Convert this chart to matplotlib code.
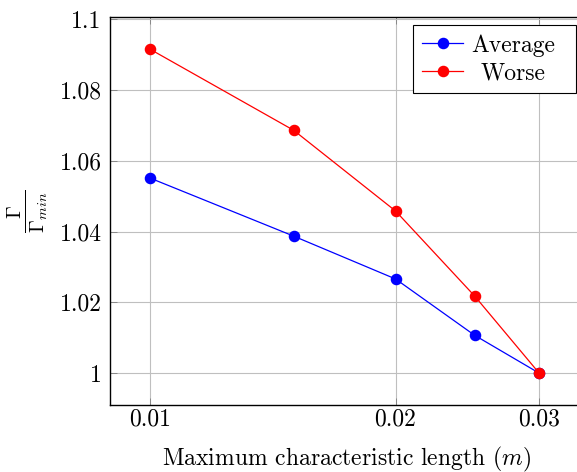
import matplotlib
matplotlib.use("Agg")
import matplotlib.pyplot as plt
from matplotlib.ticker import FixedLocator, FixedFormatter, NullLocator
from matplotlib.offsetbox import DrawingArea

plt.rcParams['font.family'] = 'serif'
plt.rcParams['font.serif'] = ['cmr10', 'DejaVu Serif']
plt.rcParams['mathtext.fontset'] = 'cm'
plt.rcParams['axes.formatter.use_mathtext'] = True

x_vals = [0.01, 0.015, 0.02, 0.025, 0.03]
average = [1.0551, 1.0387, 1.0266, 1.0107, 1.0]
worse = [1.0915, 1.0686, 1.0458, 1.0218, 1.0]
x_ticks = [0.01, 0.02, 0.03]
x_ticklabels = ['0.01', '0.02', '0.03']
y_ticks = [1.0, 1.02, 1.04, 1.06, 1.08, 1.1]
y_ticklabels = ['1', '1.02', '1.04', '1.06', '1.08', '1.1']

W, H = 577, 472
DPI = 100
fig = plt.figure(figsize=(W/DPI, H/DPI), dpi=DPI)
l, r, t, b = 110, 584, 17, 405
ax = fig.add_axes([l/W, 1 - b/H, (r - l)/W, (b - t)/H])

ax.plot(x_vals, average, color='blue', marker='o', markersize=7.3, lw=0.9, label='Average')
ax.plot(x_vals, worse, color='red', marker='o', markersize=7.3, lw=0.9, label='Worse')

ax.set_xscale('log')
ax.set_xlim(0.00893, 0.03405)
ax.set_ylim(0.991, 1.1006)
ax.xaxis.set_major_locator(FixedLocator(x_ticks))
ax.xaxis.set_major_formatter(FixedFormatter(x_ticklabels))
ax.xaxis.set_minor_locator(NullLocator())
ax.yaxis.set_major_locator(FixedLocator(y_ticks))
ax.yaxis.set_major_formatter(FixedFormatter(y_ticklabels))

ax.grid(True, color='#bfbfbf', lw=0.8)
ax.set_axisbelow(True)
ax.tick_params(direction='in', length=5, width=0.6, color='#7f7f7f', labelsize=17,
               top=True, right=True)
ax.tick_params(axis='x', pad=2.5)
ax.tick_params(axis='y', pad=6)
for s in ax.spines.values():
    s.set_linewidth(1.0)

ax.set_xlabel('Maximum characteristic length ($m$)', fontsize=17, labelpad=10)
ax.set_ylabel(r'$\frac{\Gamma}{\Gamma_{min}}$', fontsize=21, labelpad=7)

FS = 17
HTP = 0.34
leg = ax.legend(loc='upper right', fontsize=FS, frameon=True, fancybox=False,
                edgecolor='black', framealpha=1, borderaxespad=0.34,
                handlelength=1.74, handletextpad=HTP, borderpad=0.38, labelspacing=0.23)
leg.get_frame().set_linewidth(0.8)

# center legend labels within the text column and add right padding like pgfplots
renderer = fig.canvas.get_renderer()
texts = leg.get_texts()
widths = [tx.get_window_extent(renderer).width for tx in texts]
maxw = max(widths)
sep_px = HTP * FS * DPI / 72
extra_right = 12  # pixels
column = leg._legend_handle_box.get_children()[0]
for row, w in zip(column.get_children(), widths):
    row.sep = 0
    padl = (sep_px + (maxw - w) / 2) * 72 / DPI
    padr = ((maxw - w) / 2 + extra_right) * 72 / DPI
    kids = row._children
    kids.insert(1, DrawingArea(padl, 0))
    kids.append(DrawingArea(padr, 0))

fig.savefig('out.png', dpi=DPI)
